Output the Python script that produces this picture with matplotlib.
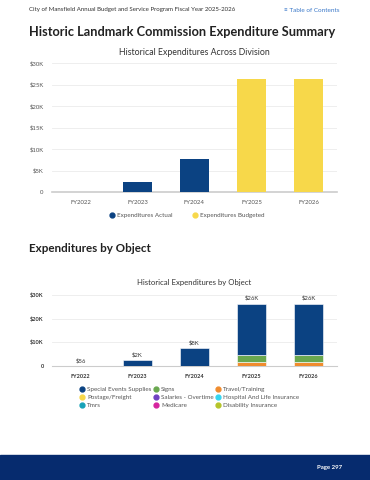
import matplotlib
matplotlib.use("Agg")
import matplotlib.pyplot as plt
from matplotlib.lines import Line2D
from matplotlib.patches import Rectangle

# 데이터
years = ["FY2022", "FY2023", "FY2024", "FY2025", "FY2026"]
actual = [56, 2400, 7600, 0, 0]
budgeted = [0, 0, 0, 26300, 26300]

objects = ["Special Events Supplies", "Signs", "Travel/Training",
           "Postage/Freight", "Salaries - Overtime", "Hospital And Life Insurance",
           "Tmrs", "Medicare", "Disability Insurance"]
special_events = [56, 2400, 7600, 21800, 21800]
signs = [0, 0, 0, 3000, 3000]
travel = [0, 0, 0, 1500, 1500]
postage = [0, 0, 0, 0, 0]
salaries_ot = [0, 0, 0, 0, 0]
hospital = [0, 0, 0, 0, 0]
tmrs = [0, 0, 0, 0, 0]
medicare = [0, 0, 0, 0, 0]
disability = [0, 0, 0, 0, 0]
obj_colors = ["#0b4282", "#6aa84f", "#f08c2e", "#f7d84a", "#6f42c1",
              "#36d6f0", "#17a2b8", "#d6249f", "#b5c42a"]

yticks = [0, 5000, 10000, 15000, 20000, 25000, 30000]
ytick_labels = ["0", "$5K", "$10K", "$15K", "$20K", "$25K", "$30K"]
yticks2 = [0, 10000, 20000, 30000]
ytick_labels2 = ["0", "$10K", "$20K", "$30K"]

NAVY = "#0b4282"
YELLOW = "#f7d84a"
plt.rcParams['font.family'] = ['Lato', 'DejaVu Sans']

fig = plt.figure(figsize=(3.7, 4.8), dpi=100)

# 머리글
fig.text(29/370, 1-10/480, "City of Mansfield Annual Budget and Service Program Fiscal Year 2025-2026",
         fontsize=4.4, color="#333333", va="center")
fig.text(340/370, 1-11/480, "\u2261 Table of Contents", fontsize=4.6, color="#3a78c9",
         va="center", ha="right")
fig.text(29/370, 1-32/480, "Historic Landmark Commission Expenditure Summary",
         fontsize=9.2, fontweight="bold", color="#222222", va="center")
fig.text(29/370, 1-248/480, "Expenditures by Object",
         fontsize=8.4, fontweight="bold", color="#222222", va="center")

# 1. 부서별 지출
ax1 = fig.add_axes([52/370, 1-192/480, 285/370, 129/480])
x = range(len(years))
ax1.bar(x, actual, width=0.5, color=NAVY, zorder=3)
ax1.bar(x, budgeted, width=0.5, color=YELLOW, zorder=3)
ax1.set_xlim(-0.5, 4.5)
ax1.set_ylim(0, 30000)
ax1.set_yticks(yticks)
ax1.set_yticklabels(ytick_labels)
ax1.set_xticks(list(x))
ax1.set_xticklabels(years)
ax1.tick_params(axis="both", length=0, labelsize=4.3, colors="#555555", pad=6)
ax1.grid(axis="y", color="#ebebeb", linewidth=0.6, zorder=0)
for s in ["top", "right", "left"]:
    ax1.spines[s].set_visible(False)
ax1.spines["bottom"].set_color("#cccccc")
ax1.spines["bottom"].set_linewidth(1.2)
ax1.set_title("Historical Expenditures Across Division", fontsize=6.3, color="#333333", pad=6)
h1 = [Line2D([], [], marker="o", linestyle="", color=NAVY, markersize=3.5),
      Line2D([], [], marker="o", linestyle="", color=YELLOW, markersize=3.5)]
ax1.legend(h1, ["Expenditures Actual", "Expenditures Budgeted"], loc="upper center",
           bbox_to_anchor=(0.472, -0.12), ncol=2, frameon=False, fontsize=4.5,
           handletextpad=0.2, handlelength=1.2, columnspacing=3, labelcolor="#555555")

# 2. 항목별 지출 (누적)
ax2 = fig.add_axes([52/370, 1-366/480, 285/370, 71/480])
series = [special_events, signs, travel, postage, salaries_ot, hospital, tmrs, medicare, disability]
stack_order = [2, 3, 1, 4, 5, 6, 7, 8, 0]
bottom = [0] * len(years)
for i in stack_order:
    ax2.bar(x, series[i], width=0.5, bottom=bottom, color=obj_colors[i],
            edgecolor="white", linewidth=0.4, zorder=3)
    bottom = [b + v for b, v in zip(bottom, series[i])]
for xi, tot in zip(x, bottom):
    lab = "$%dK" % round(tot / 1000) if tot >= 1000 else "$%d" % tot
    ax2.text(xi, tot + 1200, lab, ha="center", va="bottom", fontsize=4.3, color="#333333")
ax2.set_xlim(-0.5, 4.5)
ax2.set_ylim(0, 30000)
ax2.set_yticks(yticks2)
ax2.set_yticklabels(ytick_labels2)
ax2.set_xticks(list(x))
ax2.set_xticklabels(years, fontweight="bold")
ax2.tick_params(axis="both", length=0, labelsize=4, colors="#333333", pad=6)
for lab in ax2.get_yticklabels():
    lab.set_fontweight("bold")
ax2.grid(axis="y", color="#ebebeb", linewidth=0.6, zorder=0)
for s in ["top", "right", "left"]:
    ax2.spines[s].set_visible(False)
ax2.spines["bottom"].set_color("#cccccc")
ax2.spines["bottom"].set_linewidth(0.8)
ax2.set_title("Historical Expenditures by Object", fontsize=5.6, color="#333333", pad=7)
h2 = [Line2D([], [], marker="o", linestyle="", color=c, markersize=3.5) for c in obj_colors]
# 3열 행 순서로 배치
order = [0, 3, 6, 1, 4, 7, 2, 5, 8]
ax2.legend([h2[i] for i in order], [objects[i] for i in order], loc="upper left",
           bbox_to_anchor=(0.072, -0.21), ncol=3, frameon=False, fontsize=4.5,
           handletextpad=0.2, handlelength=1.2, columnspacing=0.15, labelspacing=0.45,
           labelcolor="#555555")

# 바닥글
fig.patches.append(Rectangle((0, 0), 1, 25/480, transform=fig.transFigure,
                             color="#062b6e", zorder=0))
fig.text(342/370, 1-467/480, "Page 297", fontsize=4.3, fontweight="bold", color="white",
         ha="right", va="center")

fig.savefig("out.png", dpi=100)
